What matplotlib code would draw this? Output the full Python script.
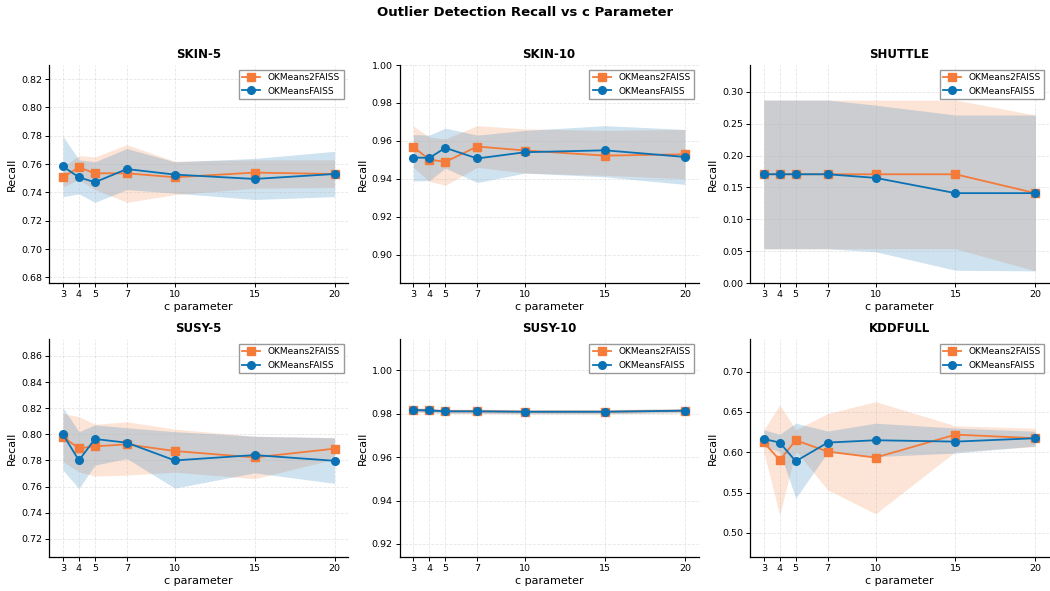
import matplotlib
matplotlib.use("Agg")
import matplotlib.pyplot as plt
import numpy as np

c_values = [3, 4, 5, 7, 10, 15, 20]
datasets = ["SKIN-5", "SKIN-10", "SHUTTLE", "SUSY-5", "SUSY-10", "KDDFULL"]

# OKMeans2FAISS: mean, lower, upper
ok2_mean = {
    "SKIN-5":  [0.7507, 0.7577, 0.7535, 0.7535, 0.7507, 0.7540, 0.7530],
    "SKIN-10": [0.9568, 0.9501, 0.9489, 0.9570, 0.9549, 0.9522, 0.9529],
    "SHUTTLE": [0.1706, 0.1706, 0.1706, 0.1706, 0.1706, 0.1706, 0.1410],
    "SUSY-5":  [0.7980, 0.7893, 0.7908, 0.7923, 0.7872, 0.7823, 0.7890],
    "SUSY-10": [0.9817, 0.9815, 0.9811, 0.9811, 0.9809, 0.9809, 0.9814],
    "KDDFULL": [0.6124, 0.5901, 0.6149, 0.6008, 0.5934, 0.6219, 0.6174],
}
ok2_low = {
    "SKIN-5":  [0.7440, 0.7490, 0.7420, 0.7330, 0.7384, 0.7430, 0.7435],
    "SKIN-10": [0.9460, 0.9386, 0.9365, 0.9460, 0.9430, 0.9418, 0.9400],
    "SHUTTLE": [0.0537, 0.0537, 0.0537, 0.0537, 0.0537, 0.0537, 0.0190],
    "SUSY-5":  [0.7790, 0.7713, 0.7680, 0.7688, 0.7710, 0.7660, 0.7810],
    "SUSY-10": [0.9807, 0.9805, 0.9801, 0.9801, 0.9799, 0.9799, 0.9804],
    "KDDFULL": [0.6000, 0.5223, 0.6020, 0.5533, 0.5236, 0.6008, 0.6070],
}
ok2_up = {
    "SKIN-5":  [0.7580, 0.7660, 0.7650, 0.7737, 0.7620, 0.7630, 0.7630],
    "SKIN-10": [0.9678, 0.9620, 0.9610, 0.9680, 0.9663, 0.9655, 0.9660],
    "SHUTTLE": [0.2870, 0.2870, 0.2870, 0.2870, 0.2870, 0.2870, 0.2635],
    "SUSY-5":  [0.8160, 0.8135, 0.8077, 0.8096, 0.8040, 0.7985, 0.7974],
    "SUSY-10": [0.9827, 0.9825, 0.9821, 0.9821, 0.9819, 0.9819, 0.9824],
    "KDDFULL": [0.6277, 0.6587, 0.6280, 0.6480, 0.6628, 0.6328, 0.6298],
}

# OKMeansFAISS: mean, lower, upper
ok_mean = {
    "SKIN-5":  [0.7584, 0.7507, 0.7472, 0.7565, 0.7526, 0.7495, 0.7530],
    "SKIN-10": [0.9512, 0.9510, 0.9563, 0.9507, 0.9540, 0.9550, 0.9515],
    "SHUTTLE": [0.1706, 0.1706, 0.1706, 0.1706, 0.1649, 0.1410, 0.1410],
    "SUSY-5":  [0.8000, 0.7800, 0.7964, 0.7936, 0.7800, 0.7841, 0.7797],
    "SUSY-10": [0.9817, 0.9815, 0.9811, 0.9811, 0.9809, 0.9809, 0.9814],
    "KDDFULL": [0.6165, 0.6120, 0.5888, 0.6120, 0.6149, 0.6132, 0.6174],
}
ok_low = {
    "SKIN-5":  [0.7370, 0.7390, 0.7330, 0.7420, 0.7395, 0.7350, 0.7370],
    "SKIN-10": [0.9388, 0.9390, 0.9456, 0.9380, 0.9430, 0.9410, 0.9370],
    "SHUTTLE": [0.0537, 0.0537, 0.0537, 0.0537, 0.0490, 0.0200, 0.0190],
    "SUSY-5":  [0.7726, 0.7585, 0.7764, 0.7815, 0.7588, 0.7705, 0.7624],
    "SUSY-10": [0.9808, 0.9806, 0.9802, 0.9802, 0.9800, 0.9800, 0.9805],
    "KDDFULL": [0.6070, 0.6008, 0.5430, 0.6000, 0.5946, 0.5990, 0.6078],
}
ok_up = {
    "SKIN-5":  [0.7798, 0.7630, 0.7616, 0.7710, 0.7616, 0.7640, 0.7690],
    "SKIN-10": [0.9633, 0.9630, 0.9667, 0.9630, 0.9655, 0.9680, 0.9660],
    "SHUTTLE": [0.2870, 0.2870, 0.2870, 0.2870, 0.2790, 0.2635, 0.2635],
    "SUSY-5":  [0.8204, 0.8020, 0.8072, 0.8050, 0.8020, 0.7985, 0.7974],
    "SUSY-10": [0.9826, 0.9824, 0.9820, 0.9820, 0.9818, 0.9818, 0.9823],
    "KDDFULL": [0.6277, 0.6223, 0.6360, 0.6264, 0.6360, 0.6300, 0.6260],
}

ylims = {
    "SKIN-5": (0.676, 0.830),
    "SKIN-10": (0.885, 1.000),
    "SHUTTLE": (0.0, 0.342),
    "SUSY-5": (0.706, 0.873),
    "SUSY-10": (0.914, 1.0144),
    "KDDFULL": (0.470, 0.7405),
}

orange = "#F47B3A"
blue = "#0A72B4"

fig, axes = plt.subplots(2, 3, figsize=(10.5, 5.91), dpi=100)
fig.subplots_adjust(left=0.047, right=0.999, top=0.89, bottom=0.0575,
                    wspace=0.173, hspace=0.257)

for ax, name in zip(axes.flat, datasets):
    ax.fill_between(c_values, ok2_low[name], ok2_up[name], color=orange,
                    alpha=0.2, linewidth=0)
    ax.fill_between(c_values, ok_low[name], ok_up[name], color=blue,
                    alpha=0.2, linewidth=0)
    ax.plot(c_values, ok2_mean[name], marker="s", color=orange, lw=1.3,
            markersize=5.5, label="OKMeans2FAISS")
    ax.plot(c_values, ok_mean[name], marker="o", color=blue, lw=1.3,
            markersize=5.5, label="OKMeansFAISS")
    ax.set_title(name, fontsize=8.5, fontweight="bold", pad=5)
    ax.set_xlabel("c parameter", fontsize=8, labelpad=2)
    ax.set_ylabel("Recall", fontsize=8, labelpad=3)
    ax.set_xticks(c_values)
    ax.set_ylim(*ylims[name])
    ax.tick_params(labelsize=6.8, length=3, width=0.7, pad=2)
    ax.grid(True, linestyle="--", alpha=0.3, linewidth=0.6)
    for s in ["left", "bottom"]:
        ax.spines[s].set_linewidth(0.9)
    ax.spines["top"].set_visible(False)
    ax.spines["right"].set_visible(False)
    ax.legend(loc="upper right", fontsize=6.5, fancybox=False,
              edgecolor="#999999", framealpha=1, borderpad=0.4,
              handlelength=2.0)

fig.suptitle("Outlier Detection Recall vs c Parameter", fontsize=9.5,
             fontweight="bold", y=0.99)

fig.savefig("out.png", dpi=100)
